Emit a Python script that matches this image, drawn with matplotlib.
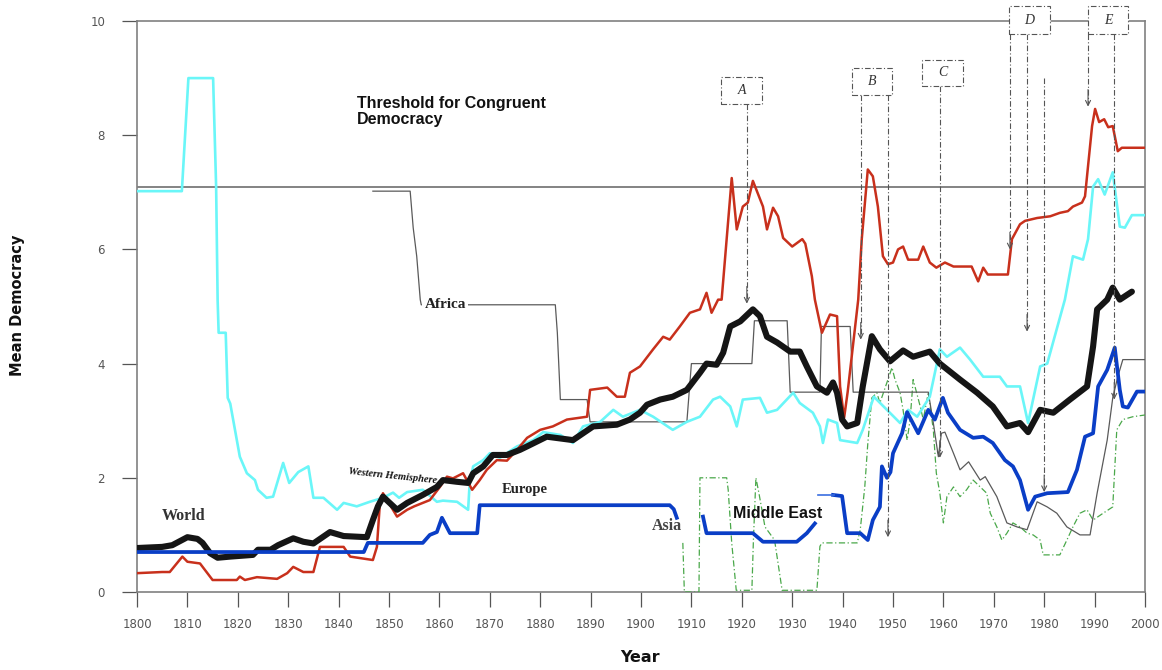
import matplotlib
matplotlib.use("Agg")
import matplotlib.pyplot as plt
from matplotlib.patches import Rectangle

# ---- regional mean democracy series: (year, value) ----
world_pts = [(1800,0.77),(1805,0.79),(1807,0.82),(1810,0.96),(1812,0.93),(1813,0.86),(1814.5,0.68),
    (1816,0.60),(1818.5,0.62),(1823,0.65),(1824,0.74),(1826.5,0.74),(1828,0.82),(1831,0.94),(1833,0.88),
    (1835,0.85),(1838.3,1.05),(1841,0.98),(1845.6,0.96),(1846.8,1.26),(1847.8,1.50),(1848.8,1.67),
    (1851.6,1.44),(1853.6,1.56),(1856.7,1.70),(1859.5,1.84),(1860.7,1.96),(1863.5,1.93),(1865.7,1.91),
    (1866.7,2.08),(1868.7,2.20),(1870.6,2.40),(1873.4,2.40),(1876,2.49),(1877.4,2.55),(1881.3,2.72),
    (1886.5,2.66),(1890.5,2.90),(1895.2,2.93),(1897.8,3.02),(1899.8,3.14),(1901.2,3.28),(1903.8,3.37),
    (1906.3,3.42),(1909.1,3.54),(1911.7,3.84),(1913,4.00),(1915,3.98),(1916.3,4.19),(1917.7,4.65),
    (1919.7,4.74),(1922.2,4.95),(1923.6,4.83),(1925,4.47),(1927,4.37),(1929.6,4.21),(1931.5,4.21),
    (1932.9,3.95),(1934.9,3.60),(1936.9,3.49),(1938.1,3.67),(1938.9,3.49),(1939.9,3.02),(1940.9,2.90),
    (1942.9,2.96),(1944,3.60),(1945.8,4.48),(1947.4,4.25),(1949.4,4.04),(1952,4.23),(1954,4.12),
    (1957.3,4.21),(1959.3,4.00),(1963.3,3.72),(1966.7,3.49),(1969.8,3.25),(1972.6,2.90),(1975.2,2.96),
    (1976.8,2.80),(1979.2,3.19),(1981.8,3.14),(1985.1,3.37),(1988.5,3.60),(1989.7,4.30),(1990.5,4.95),
    (1992.5,5.12),(1993.6,5.33),(1995,5.12),(1997.4,5.26)]

europe_pts = [(1800,0.33),(1805,0.35),(1806.5,0.35),(1809,0.62),(1810,0.53),(1812.5,0.50),(1815,0.21),
    (1819.8,0.21),(1820.4,0.27),(1821.4,0.21),(1823.8,0.26),(1827.8,0.23),(1829.8,0.33),(1831,0.44),
    (1833,0.35),(1835,0.35),(1836.3,0.79),(1841,0.79),(1842.3,0.62),(1846.8,0.56),(1847.6,0.79),
    (1848.2,1.56),(1848.8,1.73),(1851.6,1.32),(1853.6,1.44),(1855,1.50),(1858.1,1.61),(1860.1,1.84),
    (1861.5,2.02),(1862.7,1.99),(1864.7,2.08),(1866.5,1.79),(1868,1.96),(1869.4,2.14),(1871.4,2.31),
    (1873.4,2.30),(1875.4,2.49),(1877.4,2.70),(1880,2.84),(1882.5,2.90),(1885.3,3.02),(1889.3,3.07),
    (1889.9,3.54),(1893.3,3.58),(1895.2,3.42),(1896.8,3.42),(1897.8,3.84),(1899.8,3.95),(1902.4,4.25),
    (1904.4,4.47),(1905.7,4.42),(1907.7,4.65),(1909.7,4.89),(1911.7,4.95),(1913,5.24),(1914,4.89),
    (1915.3,5.12),(1916,5.12),(1918,7.25),(1919,6.35),(1920.2,6.75),(1921.2,6.82),(1922.2,7.20),
    (1924.2,6.75),(1925,6.35),(1926.2,6.73),(1927.2,6.58),(1928.2,6.20),(1930,6.05),(1932,6.18),
    (1932.6,6.10),(1933.9,5.53),(1934.5,5.12),(1935.9,4.54),(1937.5,4.86),(1938.9,4.83),(1939.5,3.60),
    (1940.3,3.05),(1941,3.50),(1943.1,5.12),(1943.8,6.18),(1945,7.40),(1946,7.28),(1947,6.75),
    (1948,5.88),(1949,5.74),(1950,5.77),(1951,6.00),(1952,6.05),(1953,5.82),(1955,5.82),(1956,6.05),
    (1957.3,5.77),(1958.6,5.68),(1960.3,5.77),(1962,5.70),(1965.6,5.70),(1966.9,5.44),(1967.9,5.68),
    (1968.8,5.56),(1972.8,5.56),(1973.6,6.18),(1975.2,6.44),(1976.2,6.50),(1978.6,6.55),(1981.2,6.58),
    (1983.1,6.64),(1984.7,6.67),(1985.7,6.75),(1987.5,6.82),(1988.1,6.93),(1988.7,7.46),(1989.5,8.16),
    (1990.1,8.46),(1990.9,8.23),(1991.9,8.28),(1992.7,8.14),(1993.6,8.16),(1994.6,7.72),(1995.4,7.78),
    (2000,7.78)]

western_pts = [(1800,7.02),(1808.9,7.02),(1810.2,9.0),(1815.1,9.0),(1815.7,7.1),(1816,5.1),(1816.2,4.54),
    (1817.6,4.54),(1818,3.40),(1818.5,3.30),(1820.4,2.37),(1821.8,2.08),(1823.4,1.96),(1824,1.79),
    (1825.7,1.65),(1827,1.67),(1829,2.26),(1830.2,1.91),(1832,2.10),(1834,2.20),(1835,1.65),(1837,1.65),
    (1839.7,1.44),(1841,1.56),(1843.6,1.50),(1846.2,1.58),(1848.8,1.65),(1850.8,1.74),(1852,1.65),
    (1853.6,1.75),(1856.7,1.79),(1859.5,1.58),(1860.7,1.60),(1863.5,1.58),(1865.7,1.44),(1866,1.90),
    (1866.7,2.20),(1868.7,2.31),(1870,2.43),(1872,2.35),(1875.4,2.55),(1878.6,2.66),(1880.6,2.80),
    (1884,2.75),(1886.5,2.61),(1888.5,2.90),(1891.9,2.98),(1894.5,3.19),(1896.4,3.07),(1899.8,3.19),
    (1902.4,3.07),(1906.3,2.84),(1909.1,2.98),(1911.7,3.07),(1914.3,3.37),(1915.7,3.42),(1917.7,3.25),
    (1919,2.90),(1920.2,3.37),(1923.6,3.40),(1925,3.14),(1927,3.19),(1930.2,3.49),(1931.5,3.31),
    (1934.1,3.14),(1935.5,2.90),(1936.1,2.61),(1937.1,3.02),(1938.9,2.96),(1939.5,2.66),(1942.9,2.61),
    (1944,2.84),(1946.2,3.42),(1948.8,3.19),(1951.4,2.96),(1953,3.19),(1954.8,3.07),(1957.3,3.42),
    (1959.3,4.25),(1960.7,4.12),(1963.3,4.28),(1965.3,4.07),(1967.9,3.77),(1971.2,3.77),(1972.6,3.60),
    (1975.2,3.60),(1976.8,2.96),(1979.2,3.95),(1980.6,4.00),(1984.1,5.12),(1985.7,5.88),(1987.7,5.82),
    (1988.7,6.18),(1989.7,7.10),(1990.7,7.23),(1992,6.96),(1993.6,7.35),(1995,6.40),(1996,6.38),
    (1997.4,6.60),(2000,6.60)]

asia_seg1 = [(1800,0.70),(1845,0.70),(1845.8,0.86),(1856.7,0.86),(1858.1,1.00),(1859.5,1.05),(1860.5,1.30),
    (1862.1,1.03),(1867.5,1.03),(1868,1.52),(1905.7,1.52),(1906.5,1.45),(1907.1,1.30)]
asia_seg2 = [(1912.3,1.32),(1913,1.03),(1922.2,1.03),(1924.2,0.88),(1930.9,0.88),(1932.9,1.03),(1934.5,1.20)]
asia_seg3_thin = [(1935.2,1.70),(1938.3,1.70)]
asia_seg3 = [(1938.1,1.70),(1939.9,1.68),(1940.9,1.03),(1943.5,1.03),(1945,0.91),(1946,1.26),(1947.4,1.49),
    (1947.8,2.20),(1948.8,2.00),(1949.5,2.10),(1950,2.43),(1951.8,2.78),(1952.8,3.15),(1955,2.78),
    (1957,3.19),(1958.3,3.02),(1959.9,3.40),(1960.9,3.14),(1963.3,2.84),(1965.9,2.70),(1967.9,2.72),
    (1969.8,2.61),(1972.2,2.31),(1973.8,2.20),(1975.2,1.96),(1976.8,1.44),(1978.2,1.67),(1980.6,1.73),
    (1984.7,1.75),(1986.5,2.14),(1988.1,2.72),(1989.7,2.78),(1990.7,3.60),(1992.5,3.89),(1994,4.28),
    (1995,3.54),(1995.6,3.25),(1996.6,3.23),(1998.4,3.51),(2000,3.51)]

africa_pts = [(1846.8,7.02),(1854.2,7.02),(1854.8,6.38),(1855.5,5.88),(1856.2,5.12),(1856.4,5.03),
    (1883,5.03),(1883.4,4.54),(1884,3.37),(1889.3,3.37),(1889.9,2.98),(1909.1,2.98),(1910,4.00),
    (1922,4.00),(1922.5,4.75),(1929,4.75),(1929.6,3.50),(1935.5,3.50),(1935.8,4.65),(1941.5,4.65),
    (1942.1,3.50),(1957,3.50),(1958,2.96),(1959,2.37),(1959.6,2.78),(1960.3,2.80),(1962,2.43),
    (1963.3,2.14),(1965,2.28),(1967.3,1.96),(1968.3,2.02),(1970.6,1.67),(1972.6,1.21),(1974.6,1.14),
    (1976.6,1.09),(1978.6,1.58),(1980.6,1.49),(1982.5,1.38),(1984.5,1.14),(1987.1,1.00),(1989.1,1.00),
    (1990.5,1.73),(1992.5,2.66),(1993.6,3.40),(1994.6,3.77),(1995.6,4.07),(2000,4.07)]

mideast_pts = [(1908.3,0.86),(1908.6,0.0),(1911.5,0.0),(1911.7,2.0),(1917,2.0),(1917.3,1.79),(1918,0.86),
    (1918.9,0.03),(1922,0.03),(1922.3,0.90),(1922.8,2.0),(1923.4,1.73),(1924.6,1.14),(1926.5,0.91),
    (1928,0.03),(1934.9,0.03),(1935.5,0.80),(1935.9,0.86),(1942.9,0.86),(1943.5,1.09),(1944.4,1.84),
    (1945,2.60),(1945.8,3.40),(1946.8,3.49),(1947.4,3.31),(1948.8,3.67),(1949.8,3.93),(1950.4,3.72),
    (1951.4,3.49),(1952,3.19),(1952.8,2.66),(1953.4,3.02),(1954,3.72),(1955.4,3.25),(1956,3.02),
    (1957,3.49),(1958,2.84),(1958.6,2.08),(1959.3,1.73),(1960,1.21),(1960.7,1.67),(1962,1.84),
    (1963.3,1.67),(1964.6,1.79),(1965.9,1.96),(1967.3,1.84),(1968.6,1.73),(1969.3,1.38),(1970.6,1.14),
    (1971.6,0.91),(1972.6,1.03),(1973.8,1.21),(1975.2,1.14),(1976.6,1.03),(1977.8,1.00),(1979.2,0.91),
    (1979.8,0.65),(1983.1,0.65),(1984.5,0.91),(1985.7,1.14),(1987.1,1.38),(1988.5,1.44),(1989.7,1.26),
    (1991.7,1.38),(1993.6,1.49),(1994.4,2.84),(1995.6,3.02),(1997.6,3.07),(2000,3.10)]

threshold = 7.1
x_ticks = list(range(1800, 2001, 10))
y_ticks = [0, 2, 4, 6, 8, 10]

# event boxes: label, (x0, x1, y0, y1)
event_boxes = [("A", 1915.9, 1924.0, 8.54, 9.02),
               ("B", 1941.9, 1949.8, 8.70, 9.18),
               ("C", 1955.8, 1963.9, 8.86, 9.32),
               ("D", 1973.0, 1981.2, 9.77, 10.26),
               ("E", 1988.7, 1996.6, 9.77, 10.26)]
# event pointers: x, top, arrow tip
event_arrows = [(1921.0, 8.54, 5.05),
                (1943.6, 8.70, 4.42), (1949.0, 8.70, 0.96),
                (1959.3, 8.86, 2.35),
                (1973.2, 9.77, 6.00), (1976.6, 9.77, 4.56), (1980.0, 9.00, 1.75),
                (1988.7, 9.77, 8.50), (1993.9, 9.77, 3.37)]


def xy(pts):
    return [p[0] for p in pts], [p[1] for p in pts]


fig = plt.figure(figsize=(11.62, 6.70), dpi=100)
ax = fig.add_axes([137 / 1162, 78 / 670, 1008 / 1162, 571 / 670])
ax.set_xlim(1800, 2000)
ax.set_ylim(0, 10)

RED = "#c8301c"
CYAN = "#6af6f8"
BLUE = "#0a3ec6"
GREY = "#5a5a5a"
GREEN = "#4aa84a"

ax.axhline(threshold, color="#7a7a7a", lw=1.3, zorder=2)

ax.plot(*xy(mideast_pts), color=GREEN, lw=0.9, ls=(0, (5, 2, 1, 2)), zorder=3)
ax.plot(*xy(africa_pts), color=GREY, lw=0.9, zorder=3)
ax.plot(*xy(western_pts), color=CYAN, lw=1.9, zorder=4)
ax.plot(*xy(europe_pts), color=RED, lw=1.8, zorder=5)
ax.plot(*xy(world_pts), color="#151515", lw=4.4, zorder=6, solid_capstyle="round")
for seg in (asia_seg1, asia_seg2, asia_seg3):
    ax.plot(*xy(seg), color=BLUE, lw=2.7, zorder=7)
ax.plot(*xy(asia_seg3_thin), color="#3a6ee0", lw=1.2, zorder=7)

# event annotations
for lab, x0, x1, y0, y1 in event_boxes:
    ax.add_patch(Rectangle((x0, y0), x1 - x0, y1 - y0, fc="white", ec="#555555",
                           lw=0.8, ls=(0, (5, 2, 1, 2)), clip_on=False, zorder=9))
    ax.text((x0 + x1) / 2, (y0 + y1) / 2, lab, ha="center", va="center",
            family=["Liberation Serif", "DejaVu Serif"], style="italic", fontsize=10,
            color="#333333", zorder=10, clip_on=False)
for x, top, tip in event_arrows:
    ax.plot([x, x], [top, tip + 0.05], color="#555555", lw=0.8,
            ls=(0, (5, 2, 1, 2)), zorder=8, clip_on=False)
    ax.annotate("", xy=(x, tip), xytext=(x, tip + 0.3),
                arrowprops=dict(arrowstyle="->", color="#555555", lw=0.8,
                                mutation_scale=9, shrinkA=0, shrinkB=0), zorder=8)

# series labels
serif = ["Liberation Serif", "DejaVu Serif"]
sans = ["Liberation Sans", "DejaVu Sans"]
ax.text(1843.6, 8.42, "Threshold for Congruent\nDemocracy", family=sans, fontweight="bold",
        fontsize=11.5, va="center", ha="left", linespacing=1.1, color="#111111")
ax.text(1857.1, 5.03, "Africa", family=serif, fontweight="bold", fontsize=11, va="center",
        ha="left", color="#222222", zorder=4,
        bbox=dict(boxstyle="square,pad=0.15", fc="white", ec="none"))
ax.text(1805.0, 1.33, "World", family=serif, fontweight="bold", fontsize=11.5, va="center",
        ha="left", color="#333333")
ax.text(1841.9, 2.02, "Western Hemisphere", family=serif, fontweight="bold", style="italic",
        fontsize=7.5, va="center", ha="left", rotation=-6, color="#111111", zorder=3.5)
ax.text(1872.3, 1.80, "Europe", family=serif, fontweight="bold", fontsize=10.5, va="center",
        ha="left", color="#222222")
ax.text(1902.2, 1.16, "Asia", family=serif, fontweight="bold", fontsize=11.5, va="center",
        ha="left", color="#444444")
ax.text(1918.2, 1.38, "Middle East", family=sans, fontweight="bold", fontsize=11.5, va="center",
        ha="left", color="#111111", zorder=8)

# axes styling
for side in ("left", "bottom", "top", "right"):
    ax.spines[side].set_color("#808080")
    ax.spines[side].set_linewidth(1.2)
ax.set_xticks(x_ticks)
ax.set_yticks(y_ticks)
narrow = ["Liberation Sans Narrow", "DejaVu Sans"]
ax.tick_params(axis="both", direction="out", length=11, width=0.9, color="#555555",
               labelcolor="#555555", labelsize=8.5)
ax.tick_params(axis="x", pad=8)
ax.tick_params(axis="y", pad=12)
for lbl in ax.get_xticklabels() + ax.get_yticklabels():
    lbl.set_family(narrow)

fig.text(18 / 1162, 1 - 305 / 670, "Mean Democracy", rotation=90, ha="center", va="center",
         family=narrow, fontweight="bold", fontsize=10.5, color="#111111")
fig.text(640 / 1162, 1 - 657 / 670, "Year", ha="center", va="center",
         family=narrow, fontweight="bold", fontsize=11.5, color="#111111")

fig.savefig("out.png", dpi=100, facecolor="white")
